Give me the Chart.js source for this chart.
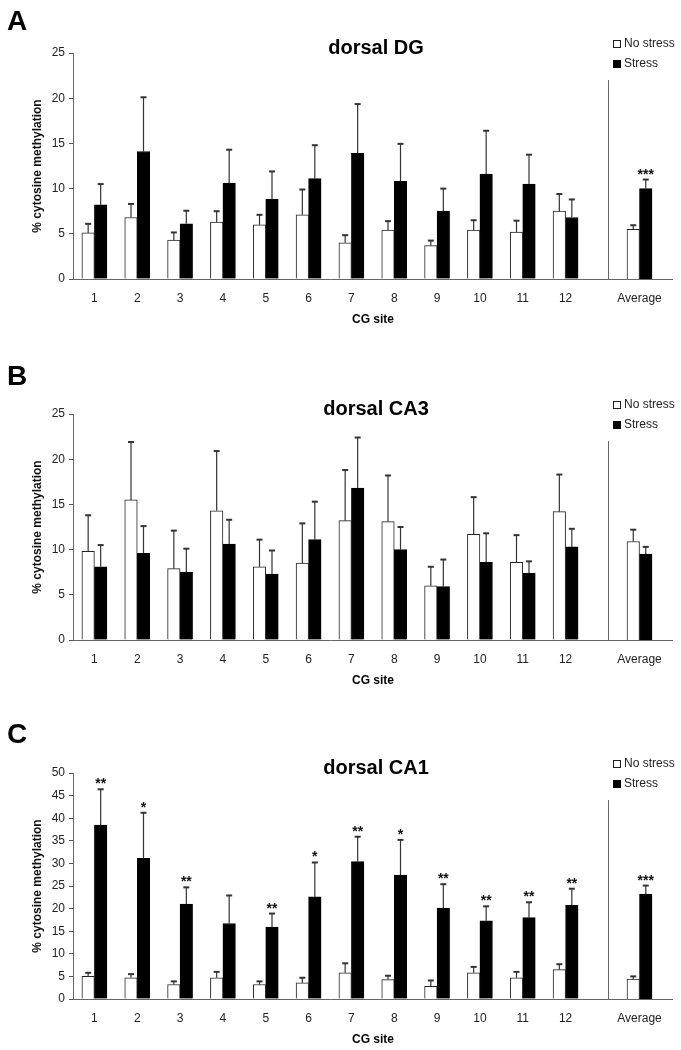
<!DOCTYPE html>
<html>
<head>
<meta charset="utf-8">
<script src="https://cdn.jsdelivr.net/npm/chart.js@4.4.1/dist/chart.umd.min.js"></script>
<style>
  html, body { margin: 0; padding: 0; background: #fff; }
  body { width: 681px; height: 1050px; position: relative; overflow: hidden; }
  .panel { position: absolute; left: 0; width: 681px; height: 330px; }
  .panel canvas { position: absolute; top: 0; }
</style>
</head>
<body>
<div class="panel" style="top:0px">
  <canvas id="mainA" width="681" height="330" style="left:0px"></canvas>
  <canvas id="avgA" width="94" height="330" style="left:587px"></canvas>
</div>
<div class="panel" style="top:361px">
  <canvas id="mainB" width="681" height="330" style="left:0px"></canvas>
  <canvas id="avgB" width="94" height="330" style="left:587px"></canvas>
</div>
<div class="panel" style="top:720px">
  <canvas id="mainC" width="681" height="330" style="left:0px"></canvas>
  <canvas id="avgC" width="94" height="330" style="left:587px"></canvas>
</div>
<script>
const sites = ["1", "2", "3", "4", "5", "6", "7", "8", "9", "10", "11", "12"];
const avgLabels = ["Average"];
const seriesNames = ["No stress", "Stress"];

// A - dorsal DG
const dgTicks = [0, 5, 10, 15, 20, 25];
const dgNoStress = [5.1, 6.8, 4.3, 6.3, 6.0, 7.1, 4.0, 5.4, 3.7, 5.4, 5.2, 7.5];
const dgNoStressSem = [1.0, 1.5, 0.85, 1.2, 1.1, 2.8, 0.85, 1.0, 0.55, 1.1, 1.25, 1.9];
const dgStress = [8.2, 14.1, 6.1, 10.6, 8.8, 11.1, 13.9, 10.8, 7.5, 11.6, 10.5, 6.8];
const dgStressSem = [2.3, 6.0, 1.45, 3.7, 3.1, 3.7, 5.45, 4.15, 2.5, 4.8, 3.25, 2.0];
const dgStars = ["", "", "", "", "", "", "", "", "", "", "", ""];
const dgAvg = [5.5, 10.0];
const dgAvgSem = [0.45, 1.0];
const dgAvgStars = ["", "***"];

// B - dorsal CA3
const ca3Ticks = [0, 5, 10, 15, 20, 25];
const ca3NoStress = [9.8, 15.5, 7.9, 14.3, 8.1, 8.5, 13.2, 13.1, 6.0, 11.7, 8.6, 14.2];
const ca3NoStressSem = [4.0, 6.4, 4.2, 6.6, 3.0, 4.4, 5.6, 5.1, 2.1, 4.1, 3.0, 4.1];
const ca3Stress = [8.1, 9.6, 7.5, 10.6, 7.3, 11.1, 16.8, 10.0, 5.9, 8.6, 7.4, 10.3];
const ca3StressSem = [2.4, 3.0, 2.6, 2.7, 2.6, 4.2, 5.6, 2.5, 3.0, 3.2, 1.3, 2.0];
const ca3Stars = ["", "", "", "", "", "", "", "", "", "", "", ""];
const ca3Avg = [10.9, 9.5];
const ca3AvgSem = [1.3, 0.8];
const ca3AvgStars = ["", ""];

// C - dorsal CA1
const ca1Ticks = [0, 5, 10, 15, 20, 25, 30, 35, 40, 45, 50];
const ca1NoStress = [5.0, 4.7, 3.2, 4.7, 3.2, 3.6, 5.8, 4.3, 2.8, 5.8, 4.7, 6.5];
const ca1NoStressSem = [0.8, 0.8, 0.7, 1.3, 0.7, 1.1, 2.1, 0.85, 1.3, 1.3, 1.3, 1.2];
const ca1Stress = [38.5, 31.1, 21.0, 16.7, 15.9, 22.6, 30.4, 27.4, 20.1, 17.3, 18.0, 20.7];
const ca1StressSem = [7.9, 10.1, 3.7, 6.2, 3.0, 7.6, 5.5, 7.8, 5.3, 3.2, 3.4, 3.7];
const ca1Stars = ["**", "*", "**", "", "**", "*", "**", "*", "**", "**", "**", "**"];
const ca1Avg = [4.4, 23.2];
const ca1AvgSem = [0.6, 1.9];
const ca1AvgStars = ["", "***"];

const panels = [
  { id: "A", title: "dorsal DG", ticks: dgTicks, noStress: dgNoStress, noStressSem: dgNoStressSem,
    stress: dgStress, stressSem: dgStressSem, stars: dgStars, avg: dgAvg, avgSem: dgAvgSem, avgStars: dgAvgStars, letterBase: 30 },
  { id: "B", title: "dorsal CA3", ticks: ca3Ticks, noStress: ca3NoStress, noStressSem: ca3NoStressSem,
    stress: ca3Stress, stressSem: ca3StressSem, stars: ca3Stars, avg: ca3Avg, avgSem: ca3AvgSem, avgStars: ca3AvgStars, letterBase: 24 },
  { id: "C", title: "dorsal CA1", ticks: ca1Ticks, noStress: ca1NoStress, noStressSem: ca1NoStressSem,
    stress: ca1Stress, stressSem: ca1StressSem, stars: ca1Stars, avg: ca1Avg, avgSem: ca1AvgSem, avgStars: ca1AvgStars, letterBase: 23 }
];

const FONT = "'Liberation Sans', Arial, sans-serif";
Chart.defaults.font.family = FONT;
Chart.defaults.color = "#222";

const whiteBar = { backgroundColor: "#fff", borderColor: "#222", borderWidth: 1, barThickness: 12.5 };
const blackBar = { backgroundColor: "#000", borderColor: "#000", borderWidth: 1, barThickness: 12.5 };

// upward error bars + significance stars
const errorBars = {
  id: "errorBars",
  afterDatasetsDraw(chart) {
    const { ctx } = chart;
    const yScale = chart.scales.y;
    ctx.save();
    chart.data.datasets.forEach((ds, i) => {
      chart.getDatasetMeta(i).data.forEach((bar, j) => {
        const top = yScale.getPixelForValue(ds.data[j] + ds.errors[j]);
        ctx.strokeStyle = "#333";
        ctx.lineWidth = 1.2;
        ctx.beginPath();
        ctx.moveTo(bar.x, bar.y);
        ctx.lineTo(bar.x, top);
        ctx.stroke();
        ctx.lineWidth = 2;
        ctx.beginPath();
        ctx.moveTo(bar.x - 3, top);
        ctx.lineTo(bar.x + 3, top);
        ctx.stroke();
        const star = ds.stars && ds.stars[j];
        if (star) {
          ctx.fillStyle = "#111";
          ctx.font = "bold 14px " + FONT;
          ctx.textAlign = "center";
          ctx.textBaseline = "alphabetic";
          ctx.fillText(star, bar.x, top - 1);
        }
      });
    });
    ctx.restore();
  }
};

const panelText = {
  id: "panelText",
  afterDraw(chart, args, opts) {
    const { ctx, chartArea } = chart;
    ctx.save();
    ctx.fillStyle = "#000";
    ctx.textBaseline = "alphabetic";
    ctx.textAlign = "left";
    ctx.font = "bold 28px " + FONT;
    ctx.fillText(opts.letter, 7, opts.letterBase);
    ctx.textAlign = "center";
    ctx.font = "bold 20px " + FONT;
    ctx.fillText(opts.title, 376, chartArea.top + 1);
    ctx.textBaseline = "middle";
    ctx.font = "bold 12px " + FONT;
    ctx.fillText("CG site", 373, chartArea.bottom + 41);
    ctx.restore();
  }
};

// axis continuation, separator line and legend for the Average part
const avgDecor = {
  id: "avgDecor",
  afterDraw(chart) {
    const { ctx, chartArea } = chart;
    const yb = Math.round(chartArea.bottom - 0.5) + 0.5;
    const xs = Math.round(chartArea.left) + 0.5;
    ctx.save();
    ctx.strokeStyle = "#666";
    ctx.lineWidth = 1;
    ctx.beginPath();
    ctx.moveTo(0, yb);
    ctx.lineTo(chartArea.right + 2, yb);
    ctx.moveTo(xs, chartArea.top + 0.12 * (chartArea.bottom - chartArea.top));
    ctx.lineTo(xs, yb);
    ctx.stroke();
    ctx.font = "12px " + FONT;
    ctx.textAlign = "left";
    ctx.textBaseline = "middle";
    chart.data.datasets.forEach((ds, i) => {
      const y = chartArea.top - 9 + i * 20;
      ctx.fillStyle = ds.backgroundColor;
      ctx.fillRect(26.5, y - 3.5, 7, 7);
      ctx.strokeStyle = ds.borderColor;
      ctx.strokeRect(26.5, y - 3.5, 7, 7);
      ctx.fillStyle = "#222";
      ctx.fillText(ds.label, 37, y);
    });
    ctx.restore();
  }
};

function yScaleFor(p, show) {
  const scale = {
    display: show,
    min: p.ticks[0],
    max: p.ticks[p.ticks.length - 1],
    ticks: { stepSize: p.ticks[1] - p.ticks[0], font: { size: 12 }, color: "#222", padding: 4 },
    grid: { drawOnChartArea: false, tickLength: 4, color: "#555" },
    border: { color: "#666" },
    title: { display: true, text: "% cytosine methylation", color: "#111",
             font: { size: 12, weight: "bold" }, padding: { top: 30.8, bottom: 0 } }
  };
  if (show) scale.afterFit = (s) => { s.width = 73; };
  return scale;
}

function xScale(showBorder) {
  return {
    grid: { display: false, drawTicks: false },
    border: { display: showBorder, color: "#666" },
    ticks: { font: { size: 12 }, color: "#222", padding: 12, maxRotation: 0, autoSkip: false },
    afterFit: (s) => { s.height = 40; }
  };
}

panels.forEach((p) => {
  new Chart(document.getElementById("main" + p.id), {
    type: "bar",
    data: {
      labels: sites,
      datasets: [
        { label: seriesNames[0], data: p.noStress, errors: p.noStressSem, stars: [], ...whiteBar },
        { label: seriesNames[1], data: p.stress, errors: p.stressSem, stars: p.stars, ...blackBar }
      ]
    },
    options: {
      responsive: false,
      animation: false,
      devicePixelRatio: 1,
      layout: { padding: { top: 53, right: 94, bottom: 11, left: 0 } },
      plugins: {
        legend: { display: false },
        tooltip: { enabled: false },
        panelText: { letter: p.id, title: p.title, letterBase: p.letterBase }
      },
      scales: { x: xScale(true), y: yScaleFor(p, true) }
    },
    plugins: [errorBars, panelText]
  });

  new Chart(document.getElementById("avg" + p.id), {
    type: "bar",
    data: {
      labels: avgLabels,
      datasets: [
        { label: seriesNames[0], data: [p.avg[0]], errors: [p.avgSem[0]], stars: [p.avgStars[0]], ...whiteBar },
        { label: seriesNames[1], data: [p.avg[1]], errors: [p.avgSem[1]], stars: [p.avgStars[1]], ...blackBar }
      ]
    },
    options: {
      responsive: false,
      animation: false,
      devicePixelRatio: 1,
      layout: { padding: { top: 53, right: 10, bottom: 11, left: 21 } },
      plugins: { legend: { display: false }, tooltip: { enabled: false } },
      scales: { x: xScale(false), y: yScaleFor(p, false) }
    },
    plugins: [errorBars, avgDecor]
  });
});
</script>
</body>
</html>
